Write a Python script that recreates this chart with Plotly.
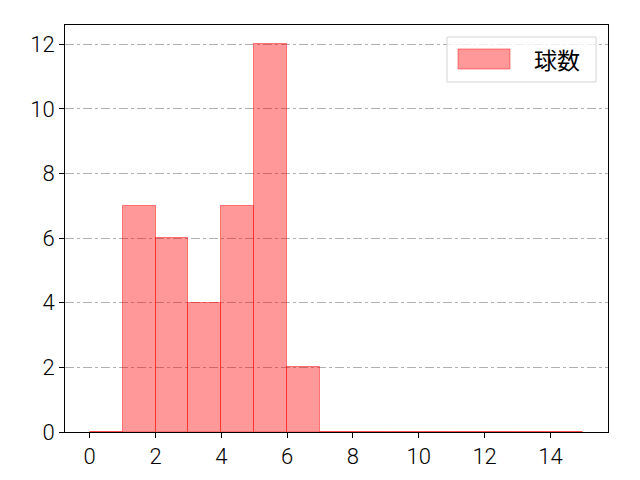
import plotly.graph_objects as go

# histogram bins (left edges) and counts
bin_edges = list(range(0, 16))
counts = [0, 7, 6, 4, 7, 12, 2, 0, 0, 0, 0, 0, 0, 0, 0]
series_name = '球数'

centers = [(bin_edges[i] + bin_edges[i + 1]) / 2 for i in range(len(counts))]

fig = go.Figure()
fig.add_trace(go.Bar(
    x=centers, y=counts, width=1, name=series_name,
    marker=dict(color='rgba(255,0,0,0.4)',
                line=dict(color='rgba(255,0,0,0.45)', width=1)),
    showlegend=False,
))

# matplotlib-style legend box (upper right)
fig.add_shape(type='rect', xref='paper', yref='paper',
              x0=0.7035, x1=0.978, y0=0.860, y1=0.9705,
              line=dict(color='#d5d5d5', width=1), fillcolor='rgba(255,255,255,0.8)')
fig.add_shape(type='rect', xref='paper', yref='paper',
              x0=0.7238, x1=0.8195, y0=0.8919, y1=0.941,
              line=dict(color='rgba(255,0,0,0.45)', width=1), fillcolor='rgba(255,0,0,0.4)')
fig.add_annotation(xref='paper', yref='paper', x=0.906, y=0.9165,
                   xanchor='center', yanchor='middle',
                   text=series_name, showarrow=False,
                   font=dict(family='Noto Sans CJK JP', size=23, color='black'))

tick_font = dict(family='Roboto, Noto Sans CJK JP', size=22, weight=300, color='black')

fig.update_layout(
    width=640, height=480,
    margin=dict(l=57, r=40, t=17, b=56),
    plot_bgcolor='white', paper_bgcolor='white',
    font=dict(family='Noto Sans CJK JP, DejaVu Sans', size=20, color='black'),
    bargap=0,
)
fig.update_xaxes(range=[-0.75, 15.75], tickvals=list(range(0, 16, 2)),
                 tickfont=tick_font,
                 showline=True, linecolor='black', linewidth=1, mirror=True,
                 ticks='outside', ticklen=5, tickcolor='black',
                 showgrid=False, zeroline=False, automargin=False)
fig.update_yaxes(range=[0, 12.6], tickvals=list(range(0, 13, 2)),
                 tickfont=tick_font,
                 showline=True, linecolor='black', linewidth=1, mirror=True,
                 ticks='outside', ticklen=5, tickcolor='black',
                 showgrid=True, gridcolor='#b0b0b0', griddash='dashdot', gridwidth=1,
                 zeroline=False, automargin=False)

fig.write_html('out.html')
